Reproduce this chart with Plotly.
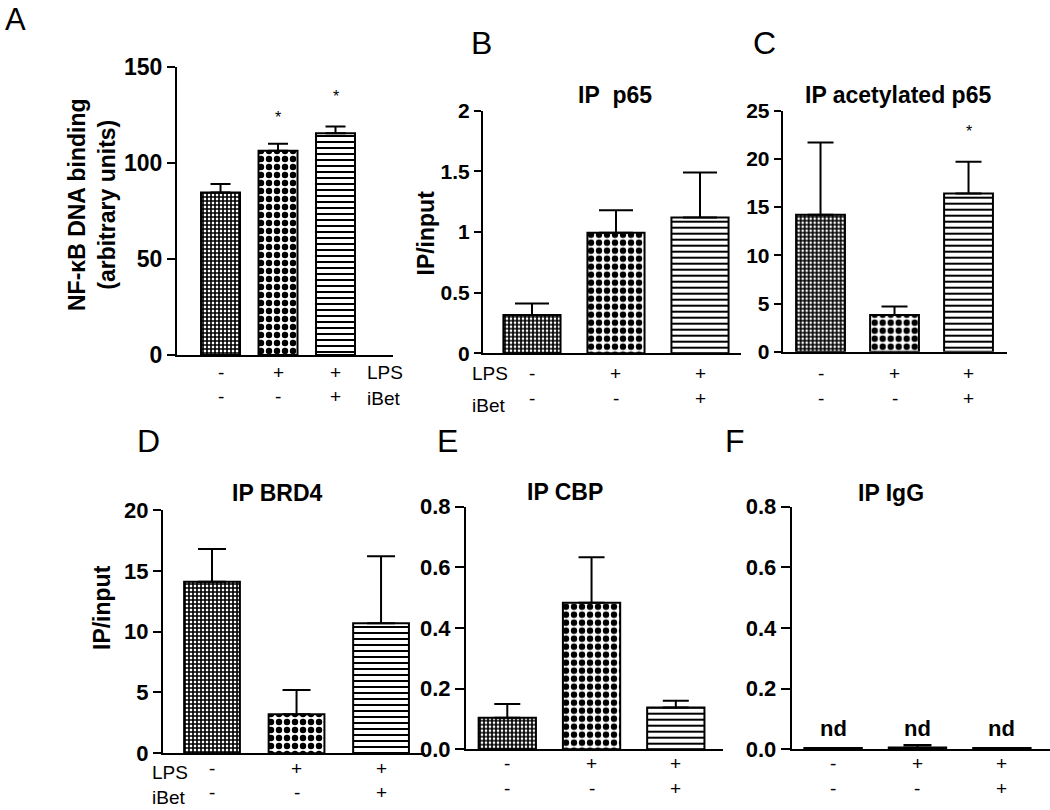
import plotly.graph_objects as go

W, H = 1050, 810

# ---------------- data ----------------
lps_signs = ["-", "+", "+"]
ibet_signs = ["-", "-", "+"]

a_values = [84.7, 106.4, 115.5]
a_errors = [4.3, 3.6, 3.5]
a_star_y = [None, 126, 136.6]

b_values = [0.316, 0.994, 1.12]
b_errors = [0.094, 0.186, 0.37]

c_values = [14.2, 3.8, 16.4]
c_errors = [7.5, 0.9, 3.3]
c_star_y = [None, None, 23.3]

d_values = [14.1, 3.2, 10.7]
d_errors = [2.7, 2.0, 5.5]

e_values = [0.104, 0.483, 0.138]
e_errors = [0.045, 0.15, 0.022]

f_values = [0.004, 0.006, 0.004]
f_errors = [0.0, 0.008, 0.0]
f_labels = ["nd", "nd", "nd"]
f_label_y = [0.069, 0.069, 0.069]

titles = {"A": "", "B": "IP\u00a0 p65", "C": "IP acetylated p65",
          "D": "IP BRD4", "E": "IP CBP", "F": "IP IgG"}

# ---------------- layout helpers ----------------
def px_x(p):
    return p / W


def px_y(p):
    return 1 - p / H


FONT = "Arial, Liberation Sans, Helvetica, sans-serif"

patterns = dict(
    shape=["+", ".", "-"],
    size=[4, 8, 6],
    solidity=[0.65, 0.5, 0.34],
    fgcolor="black",
    bgcolor="white",
)

panels = [
    dict(key="A", values=a_values, errors=a_errors, stars=a_star_y,
         dom=(177, 393, 355, 67), yrange=(0, 150), dtick=50, fmt="",
         xrange=(-0.757, 3.0), bw=0.678, tfs=23, tlen=8, errw=10,
         rows=(372, 396), lab=dict(x=365, y1=372, y2=398),
         title_xy=None, letter_xy=(15, 16)),
    dict(key="B", values=b_values, errors=b_errors, stars=None,
         dom=(483, 741, 353.3, 110.7), yrange=(0, 2), dtick=0.5, fmt="",
         xrange=(-0.583, 2.488), bw=0.68, tfs=21, tlen=7, errw=17,
         rows=(373, 398), lab=dict(x=470, y1=373, y2=405),
         title_xy=(615, 95), letter_xy=(481, 43)),
    dict(key="C", values=c_values, errors=c_errors, stars=c_star_y,
         dom=(782.7, 1007, 351.7, 110.7), yrange=(0, 25), dtick=5, fmt="",
         xrange=(-0.511, 2.52), bw=0.66, tfs=21, tlen=7, errw=13,
         rows=(373, 398), lab=None,
         title_xy=(898, 95), letter_xy=(764, 43)),
    dict(key="D", values=d_values, errors=d_errors, stars=None,
         dom=(163, 425, 753.3, 510), yrange=(0, 20), dtick=5, fmt="",
         xrange=(-0.58, 2.52), bw=0.66, tfs=22, tlen=8, errw=14,
         rows=(768, 792), lab=dict(x=150, y1=772, y2=797),
         title_xy=(277, 493), letter_xy=(148, 441)),
    dict(key="E", values=e_values, errors=e_errors, stars=None,
         dom=(466, 723, 749.3, 506.7), yrange=(0, 0.8), dtick=0.2, fmt=".1f",
         xrange=(-0.49, 2.56), bw=0.68, tfs=22, tlen=9, errw=13,
         rows=(763, 788), lab=None,
         title_xy=(565, 492), letter_xy=(447, 441)),
    dict(key="F", values=f_values, errors=f_errors, stars=None,
         dom=(791.7, 1050, 749.3, 506.7), yrange=(0, 0.8), dtick=0.2, fmt=".1f",
         xrange=(-0.49, 2.57), bw=0.68, tfs=22, tlen=9, errw=14,
         rows=(763, 788), lab=None,
         title_xy=(891, 493), letter_xy=(734.5, 441)),
]

fig = go.Figure()
annotations = []
layout = dict(
    template="none",
    width=W, height=H, autosize=False,
    margin=dict(l=0, r=0, t=0, b=0, pad=0, autoexpand=False),
    paper_bgcolor="white", plot_bgcolor="white",
    showlegend=False,
    font=dict(family=FONT, color="black"),
)

xcats = [0, 1, 2]

for n, p in enumerate(panels, start=1):
    sfx = "" if n == 1 else str(n)
    xa, ya = "x" + sfx, "y" + sfx
    fig.add_trace(go.Bar(
        x=xcats, y=p["values"], width=p["bw"],
        xaxis=xa, yaxis=ya,
        marker=dict(color="white", line=dict(color="black", width=2),
                    pattern=patterns),
        error_y=dict(type="data", symmetric=False, array=p["errors"],
                     arrayminus=[0, 0, 0], color="black", thickness=2,
                     width=p["errw"]),
        hoverinfo="skip",
    ))
    x0, x1, yb, yt = p["dom"]
    layout["xaxis" + sfx] = dict(
        domain=[px_x(x0), px_x(x1)], range=list(p["xrange"]), anchor=ya,
        showline=True, linecolor="black", linewidth=2, ticks="",
        showticklabels=False, showgrid=False, zeroline=False, fixedrange=True,
        automargin=False,
    )
    layout["yaxis" + sfx] = dict(
        domain=[px_y(yb), px_y(yt)], range=list(p["yrange"]), anchor=xa,
        showline=True, linecolor="black", linewidth=2,
        ticks="outside", ticklen=p["tlen"], tickwidth=2, tickcolor="black",
        dtick=p["dtick"], tick0=0, tickformat=p["fmt"],
        tickfont=dict(family=FONT, size=p["tfs"], color="black", weight="bold"),
        showgrid=False, zeroline=False, fixedrange=True, automargin=False,
    )
    # +/- condition rows
    for i in range(3):
        for sign, ry in ((lps_signs[i], p["rows"][0]), (ibet_signs[i], p["rows"][1])):
            annotations.append(dict(
                x=xcats[i], xref=xa, y=px_y(ry), yref="paper", text=sign,
                showarrow=False, xanchor="center", yanchor="middle",
                font=dict(family=FONT, size=19, color="black")))
    if p["lab"]:
        lb = p["lab"]
        for txt, yy in (("LPS", lb["y1"]), ("iBet", lb["y2"])):
            annotations.append(dict(
                x=px_x(lb["x"]), xref="paper", y=px_y(yy), yref="paper",
                text=txt, showarrow=False, xanchor="left", yanchor="middle",
                font=dict(family=FONT, size=19, color="black")))
    if p["stars"]:
        for i, sy in enumerate(p["stars"]):
            if sy is not None:
                annotations.append(dict(
                    x=xcats[i], xref=xa, y=sy, yref=ya, text="*", yshift=-4,
                    showarrow=False, xanchor="center", yanchor="middle",
                    font=dict(family=FONT, size=16, color="black")))
    if p["title_xy"]:
        tx, ty = p["title_xy"]
        annotations.append(dict(
            x=px_x(tx), xref="paper", y=px_y(ty), yref="paper",
            text=titles[p["key"]], showarrow=False, xanchor="center",
            yanchor="middle",
            font=dict(family=FONT, size=23, color="black", weight="bold")))
    lx, ly = p["letter_xy"]
    if p["key"] == "A":
        annotations.append(dict(
            x=px_x(lx), xref="paper", y=1, yref="paper", text=p["key"],
            showarrow=False, xanchor="center", yanchor="top",
            font=dict(family=FONT, size=31, color="black")))
    else:
        annotations.append(dict(
            x=px_x(lx), xref="paper", y=px_y(ly), yref="paper", text=p["key"],
            showarrow=False, xanchor="center", yanchor="middle",
            font=dict(family=FONT, size=32, color="black")))

# "nd" labels in panel F
for i, t in enumerate(f_labels):
    annotations.append(dict(
        x=xcats[i], xref="x6", y=f_label_y[i], yref="y6", text=t,
        showarrow=False, xanchor="center", yanchor="middle",
        font=dict(family=FONT, size=22, color="black", weight="bold")))

# y-axis titles
ytitles = [
    ("NF-\u03baB DNA binding<br>(arbitrary units)", 92, 205),
    ("IP/input", 425, 233.5),
    ("IP/input", 102, 608),
]
for txt, tx, ty in ytitles:
    annotations.append(dict(
        x=px_x(tx), xref="paper", y=px_y(ty), yref="paper", text=txt,
        textangle=-90, showarrow=False, xanchor="center", yanchor="middle",
        font=dict(family=FONT, size=23, color="black", weight="bold")))

layout["annotations"] = annotations
fig.update_layout(**layout)
fig.write_html(
    "out.html",
    config={"displayModeBar": False, "staticPlot": True},
    post_script="document.body.style.margin='0px';document.body.style.overflow='hidden';",
)
